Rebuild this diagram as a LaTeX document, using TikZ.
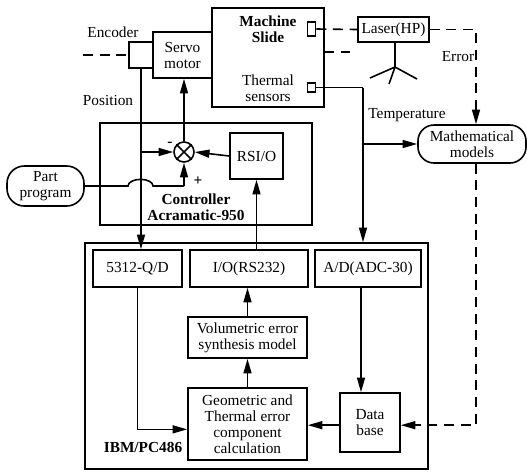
\documentclass[tikz,border=0pt]{standalone}
\usepackage{fontspec}
\setmainfont{Liberation Serif}
\usetikzlibrary{arrows.meta,calc}
\begin{document}
\begin{tikzpicture}[x=0.75pt,y=-0.75pt,
  >={Triangle[length=11pt,width=6pt]},
  every node/.style={font=\fontsize{11.5}{12}\selectfont, align=center, inner sep=1pt},
  box/.style={draw, line width=1.2pt},
  rbox/.style={draw, line width=1.2pt, rounded corners=12pt},
  lab/.style={},
  blab/.style={font=\fontsize{11.5}{12}\selectfont\bfseries},
  conn/.style={line width=1.2pt},
  arr/.style={line width=1.2pt, ->},
  dsh/.style={line width=1.2pt, dash pattern=on 7.5pt off 5pt}]
\useasboundingbox (0,0) rectangle (527,472);
% top machine
\node[box, minimum width=84pt, minimum height=74.25pt] (slide) at (268,57.5) {};
\node[blab] (slidetxt) at (268,29) {Machine\\Slide};
\node[lab] (thermtxt) at (268,88) {Thermal\\sensors};
\node[box, minimum width=6pt, minimum height=10.5pt, inner sep=0pt] (sq1) at (311.5,29) {};
\node[box, minimum width=6pt, minimum height=7pt, inner sep=0pt] (sq2) at (311.5,87.5) {};
\node[box, minimum width=44.25pt, minimum height=34.5pt] (servo) at (182.5,55) {Servo\\motor};
\node[box, minimum width=18pt, minimum height=19.5pt] (enc) at (141,55) {};
\node[box, minimum width=53.25pt, minimum height=18.75pt] (laser) at (393.5,29.5) {Laser(HP)};
\node[rbox, minimum width=81pt, minimum height=28.5pt] (math) at (472,144) {Mathematical\\models};
\node[rbox, rounded corners=13pt, minimum width=57.75pt, minimum height=30pt] (pp) at (45.5,186) {Part\\program};
% labels
\node[lab] (enclab) at (113,32) {Encoder};
\node[lab] (poslab) at (108,100) {Position};
\node[lab] (errlab) at (458,57) {Error};
\node[lab] (templab) at (407,115) {Temperature};
% controller
\node[box, minimum width=159pt, minimum height=76.5pt] (ctrl) at (206,174) {};
\node[blab] (ctrltxt) at (196,207) {Controller\\Acramatic-950};
\node[box, minimum width=39.75pt, minimum height=34.5pt] (rsi) at (256.5,156) {RSI/O};
\node[draw, circle, line width=1.2pt, minimum size=15pt, inner sep=0pt] (sum) at (184,152) {};
\draw[conn] (sum.north west) -- (sum.south east) (sum.north east) -- (sum.south west);
\node[blab] (minus) at (170,144) {-};
\node[blab] (plus) at (198,181) {+};
% IBM
\node[box, minimum width=257.25pt, minimum height=169.5pt] (ibm) at (256.5,356) {};
\node[box, minimum width=66.75pt, minimum height=27.75pt] (qd) at (137.5,268.5) {5312-Q/D};
\node[box, minimum width=88.5pt, minimum height=27.75pt] (io) at (249,268.5) {I/O(RS232)};
\node[box, minimum width=79.5pt, minimum height=27.75pt] (ad) at (368,268.5) {A/D(ADC-30)};
\node[box, minimum width=89.25pt, minimum height=30.75pt] (vol) at (247.5,337.5) {Volumetric error\\synthesis model};
\node[box, minimum width=89.25pt, minimum height=54pt] (geo) at (247.5,424) {Geometric and\\Thermal error\\component\\calculation};
\node[box, minimum width=45pt, minimum height=44.25pt] (db) at (370,422.5) {Data\\base};
\node[blab] (ibmtxt) at (143,447) {IBM/PC486};
% coordinates
\coordinate (dl) at (83,55);
\coordinate (sd1) at (324,52);
\coordinate (sd2) at (350,52);
\coordinate (tx) at (363,87.5);
\coordinate (ec) at (476,29);
\coordinate (adx) at (361,0);
\coordinate (t0) at (395,67);
\coordinate (t1) at (370,78);
\coordinate (t2) at (417,79);
\coordinate (t3) at (389,84);
\coordinate (hl) at (128,186);
% connectors
\draw[dsh] (dl) -- (enc.west);
\draw[arr] (enc.south) -- (enc.south |- qd.north);
\draw[arr] (enc.south |- sum.west) -- (sum.west);
\draw[arr] (sum.north) -- (sum.north |- servo.south);
\draw[arr] (rsi.west) -- (sum.east);
\draw[arr] (rsi.south |- io.north) -- (rsi.south);
\draw[conn] (pp.east) -- (hl) arc[start angle=180, end angle=0, x radius=9.4pt, y radius=5pt] -- (sum.south |- pp.east);
\draw[arr] (sum.south |- pp.east) -- (sum.south);
\draw[dsh] (sd1) -- (sd2);
\draw[dsh] (sq1.east) -- (laser.west);
\draw[dsh, ->] (laser.east) -| (ec |- math.north);
\draw[dsh, ->] (ec |- math.south) |- ([yshift=-2pt]db.east);
\draw[conn] (laser.south -| t0) -- (t0) (t1) -- (t0) -- (t2) (t0) -- (t3);
\draw[conn] (sq2.east) -- (tx);
\draw[arr] (tx) -- (tx |- ibm.north);
\draw[arr] (tx |- math.west) -- (math.west);
\draw[arr] (geo.north) -- (geo.north |- vol.south);
\draw[arr] (vol.north) -- (vol.north |- io.south);
\draw[arr] (adx |- ad.south) -- (adx |- db.north);
\draw[arr] ([yshift=-2pt]db.west) -- ([yshift=-2pt]db.west -| geo.east);
\draw[arr] (qd.south) |- ([yshift=-4pt]geo.west);
\end{tikzpicture}
\end{document}
